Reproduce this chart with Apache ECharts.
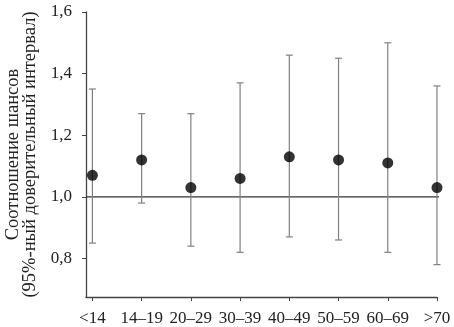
<!DOCTYPE html>
<html><head><meta charset="utf-8">
<script src="https://cdn.jsdelivr.net/npm/echarts@6/dist/echarts.min.js"></script>
<style>html,body{margin:0;padding:0;background:#fff}#c{width:454px;height:327px}</style>
</head><body><div id="c"></div>
<script>
const categories = ['<14','14–19','20–29','30–39','40–49','50–59','60–69','>70'];
const oddsRatio = [1.07,1.12,1.03,1.06,1.13,1.12,1.11,1.03];
const ciLower = [0.85,0.98,0.84,0.82,0.87,0.86,0.82,0.78];
const ciUpper = [1.35,1.27,1.27,1.37,1.46,1.45,1.50,1.36];
const yTicks = [0.8,1.0,1.2,1.4,1.6];
const refValue = 1.0;

const font = 'Liberation Serif';
const chart = echarts.init(document.getElementById('c'));
const pts = oddsRatio.map((v,i)=>[i,v]);
const err = categories.map((c,i)=>[i,ciLower[i],ciUpper[i]]);
chart.setOption({
  animation:false,
  grid:{left:86,right:17,top:12,bottom:30,containLabel:false,outerBoundsMode:'none'},
  xAxis:{type:'value',min:-0.13,max:7,
    axisLine:{onZero:false,lineStyle:{color:'#444',width:1.3}},
    axisTick:{show:true,length:4,lineStyle:{color:'#444'},customValues:categories.map((c,i)=>i)},
    axisLabel:{fontFamily:font,fontSize:17,color:'#222',margin:13,customValues:categories.map((c,i)=>i),
      formatter:v=>categories[Math.round(v)]},
    splitLine:{show:false}},
  yAxis:{type:'value',min:0.675,max:1.6,
    name:'Соотношение шансов\n(95%-ный доверительный интервал)',
    nameLocation:'middle',nameGap:34,nameRotate:90,
    nameTextStyle:{fontFamily:font,fontSize:18.5,color:'#222',lineHeight:17},
    axisLine:{show:true,onZero:false,lineStyle:{color:'#444',width:1.3}},
    axisTick:{show:true,length:4,lineStyle:{color:'#444'},customValues:yTicks},
    axisLabel:{fontFamily:font,fontSize:17,color:'#222',margin:14,customValues:yTicks,
      formatter:v=>v.toFixed(1).replace('.',',')},
    splitLine:{show:false}},
  series:[
    {type:'line',data:[[-0.13,refValue],[7.13,refValue]],clip:false,symbol:'none',
      lineStyle:{color:'#333',width:1.2},silent:true,z:1},
    {type:'custom',data:err,z:2,renderItem:function(params,api){
      const lo=api.coord([api.value(0),api.value(1)]);
      const hi=api.coord([api.value(0),api.value(2)]);
      const w=3.5;
      const st={stroke:'#808080',lineWidth:1.2};
      return {type:'group',children:[
        {type:'line',shape:{x1:lo[0],y1:lo[1],x2:hi[0],y2:hi[1]},style:st},
        {type:'line',shape:{x1:lo[0]-w,y1:lo[1],x2:lo[0]+w,y2:lo[1]},style:st},
        {type:'line',shape:{x1:hi[0]-w,y1:hi[1],x2:hi[0]+w,y2:hi[1]},style:st}
      ]};
    }},
    {type:'scatter',data:pts,symbol:'circle',symbolSize:11,itemStyle:{color:'#000'},z:3}
  ]
});
</script></body></html>
